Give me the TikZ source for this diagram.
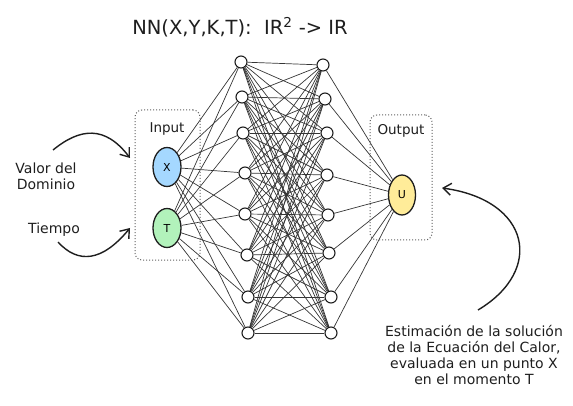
\documentclass[tikz,border=0pt]{standalone}
\usepackage{fontspec}
\setmainfont{DejaVu Sans}
\usetikzlibrary{arrows.meta,shapes.geometric,backgrounds}
\definecolor{inkc}{HTML}{1E1E1E}
\definecolor{bluefill}{HTML}{A5D8FF}
\definecolor{greenfill}{HTML}{B2F2BB}
\definecolor{yellowfill}{HTML}{FFEC99}
\begin{document}
\begin{tikzpicture}[x=1pt,y=-1pt,
  hid/.style={circle, draw=inkc, line width=1.1pt, fill=white, minimum size=12pt, inner sep=0pt},
  io/.style={ellipse, draw=inkc, line width=1.3pt, minimum width=28pt, minimum height=39pt, inner sep=0pt, font=\fontsize{11}{12}\selectfont},
  conn/.style={draw=inkc!90, line width=0.7pt},
  grp/.style={draw=inkc!70, dotted, line width=1pt, rounded corners=7pt, inner sep=0pt},
  lbl/.style={font=\fontsize{14}{16}\selectfont, text=inkc, align=center, inner sep=0pt},
  sketcharrow/.style={draw=inkc, line width=1.4pt, -{Straight Barb[length=8pt,width=12pt]}}
]
\useasboundingbox (0,0) rectangle (573,406);

% title
\node[lbl, font=\fontsize{19.5}{22}\selectfont] (title) at (240,27) {NN(X,Y,K,T):\ \ IR\textsuperscript{2} -> IR};

% groups
\node[grp, minimum width=65pt, minimum height=150pt] (inbox) at (167.5,185) {};
\node[grp, minimum width=62pt, minimum height=125pt] (outbox) at (401,177.5) {};
\node[lbl, font=\fontsize{13.5}{15}\selectfont] (inlbl) at (167,129) {Input};
\node[lbl, font=\fontsize{13.5}{15}\selectfont] (outlbl) at (401,131) {Output};

% input / output nodes
\node[io, fill=bluefill] (x) at (167,167) {X};
\node[io, fill=greenfill] (t) at (167,228) {T};
\node[io, fill=yellowfill, minimum width=27pt, minimum height=40pt] (u) at (402,195) {U};

% hidden layers
\foreach \i/\px/\py in {1/241/62, 2/242/97, 3/243/133, 4/245/173, 5/245/214, 6/247/255, 7/248/297, 8/248/333}
  \node[hid] (n\i) at (\px,\py) {};
\foreach \i/\px/\py in {1/323/65, 2/325/99, 3/327/133, 4/327/175, 5/328/215, 6/329/253, 7/331/297, 8/331/333}
  \node[hid] (m\i) at (\px,\py) {};

% connections
\begin{scope}[on background layer]
  \foreach \i in {1,...,8} {
    \draw[conn] (x) -- (n\i);
    \draw[conn] (t) -- (n\i);
    \draw[conn] (m\i) -- (u);
    \foreach \j in {1,...,8}
      \draw[conn] (n\i) -- (m\j);
  }
\end{scope}

% side labels
\node[lbl] (valor) at (46,176) {Valor del\\Dominio};
\node[lbl] (tiempo) at (54,230) {Tiempo};
\node[lbl] (est) at (474,355) {Estimación de la solución\\de la Ecuación del Calor,\\evaluada en un punto X\\en el momento T};

% arrows
\coordinate (a1s) at (53,150);
\coordinate (a1e) at (130,158);
\coordinate (a2s) at (58,242);
\coordinate (a2e) at (130,228);
\coordinate (a3s) at (478,310);
\coordinate (a3e) at (442,188);
\draw[sketcharrow] (a1s) .. controls (80,128) and (105,125) .. (a1e);
\draw[sketcharrow] (a2s) .. controls (78,264) and (102,262) .. (a2e);
\draw[sketcharrow] (a3s) .. controls (545,270) and (530,200) .. (a3e);
\end{tikzpicture}
\end{document}
